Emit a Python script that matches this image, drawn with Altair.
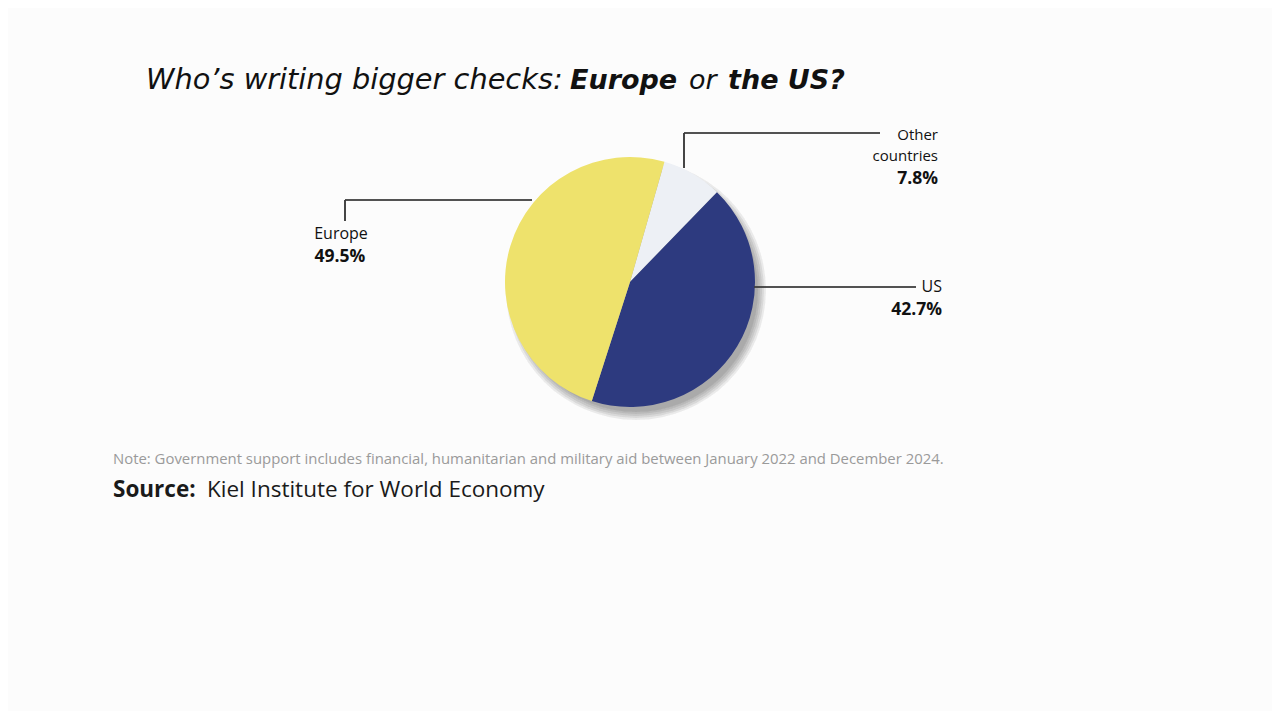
import math
import altair as alt
import pandas as pd

# ---- data ----
regions = ["Other countries", "US", "Europe"]
shares = [7.8, 42.7, 49.5]
slice_order = [1, 2, 3]
slice_colors = ["#EDF0F5", "#2D3A7F", "#EEE26C"]

df = pd.DataFrame({"region": regions, "share": shares, "ord": slice_order})

W, H = 1264, 703
OX, OY = 8, 8  # page margin
cx, cy, R = 630 - OX, 282 - OY, 125
start = math.radians(16)

FONT = "Open Sans"
TFONT = "DejaVu Sans"

layers = []

# soft shadow
for dr in [5, 3, 1, -1, -3]:
    layers.append(
        alt.Chart(df).mark_arc(radius=R + dr, theta=0, theta2=2 * math.pi,
                               color="#000000", opacity=0.022)
        .encode(x=alt.value(cx + 6), y=alt.value(cy + 8))
    )

pie = alt.Chart(df).mark_arc(radius=R, stroke=None).encode(
    theta=alt.Theta("share:Q", stack=True,
                    scale=alt.Scale(range=[start, start + 2 * math.pi])),
    order=alt.Order("ord:Q"),
    color=alt.Color("region:N", scale=alt.Scale(domain=regions, range=slice_colors),
                    legend=None),
    x=alt.value(cx), y=alt.value(cy),
)
layers.append(pie)


def rule(x1, y1, x2, y2, color="#3a3a3a"):
    return alt.Chart(df).mark_rule(color=color, strokeWidth=1.2).encode(
        x=alt.value(x1 - OX), x2=alt.value(x2 - OX),
        y=alt.value(y1 - OY), y2=alt.value(y2 - OY))


def txt(s, x, y, size, weight="normal", align="left", color="#111111",
        style="normal", baseline="alphabetic", font=FONT):
    return alt.Chart(df.head(1)).mark_text(
        text=s, font=font, fontSize=size, fontWeight=weight, align=align,
        color=color, fontStyle=style, baseline=baseline,
    ).encode(x=alt.value(x - OX), y=alt.value(y - OY))


# leader lines
layers += [
    rule(345, 200, 532, 200),
    rule(345, 200, 345, 221),
    rule(684, 133, 880, 133),
    rule(684, 133, 684, 168),
    rule(754, 287, 916, 287),
]

# slice labels
layers += [
    txt("Europe", 341, 239, 16, align="center"),
    txt("49.5%", 340, 262, 17.5, weight="bold", align="center"),
    txt("Other", 938, 140, 15, align="right"),
    txt("countries", 938, 161, 15, align="right"),
    txt("7.8%", 938, 184, 17.5, weight="bold", align="right"),
    txt("US", 942, 292, 16, align="right"),
    txt("42.7%", 942, 315, 17.5, weight="bold", align="right"),
]

# title (mixed styles)
layers += [
    txt("Who\u2019s writing bigger checks:", 146, 89, 28.8, style="italic", weight=200, font=TFONT),
    txt("Europe", 570, 89, 27, style="italic", weight="bold", font=TFONT),
    txt("or", 689, 89, 27, style="italic", weight=200, font=TFONT),
    txt("the US?", 728, 89, 27, style="italic", weight="bold", font=TFONT),
]

# footer
layers += [
    txt("Note: Government support includes financial, humanitarian and military aid "
        "between January 2022 and December 2024.", 113, 464, 14.9, color="#9a9a9a"),
    txt("Source:", 113, 497, 22.5, weight="bold", color="#1a1a1a"),
    txt("Kiel Institute for World Economy", 207, 497, 22.5, color="#1a1a1a"),
]

chart = alt.layer(*layers).properties(
    width=W, height=H, padding=0, autosize="none", background="#fcfcfc"
).configure_view(stroke=None)

chart.save("out.html", embed_options={"renderer": "svg", "actions": False})
